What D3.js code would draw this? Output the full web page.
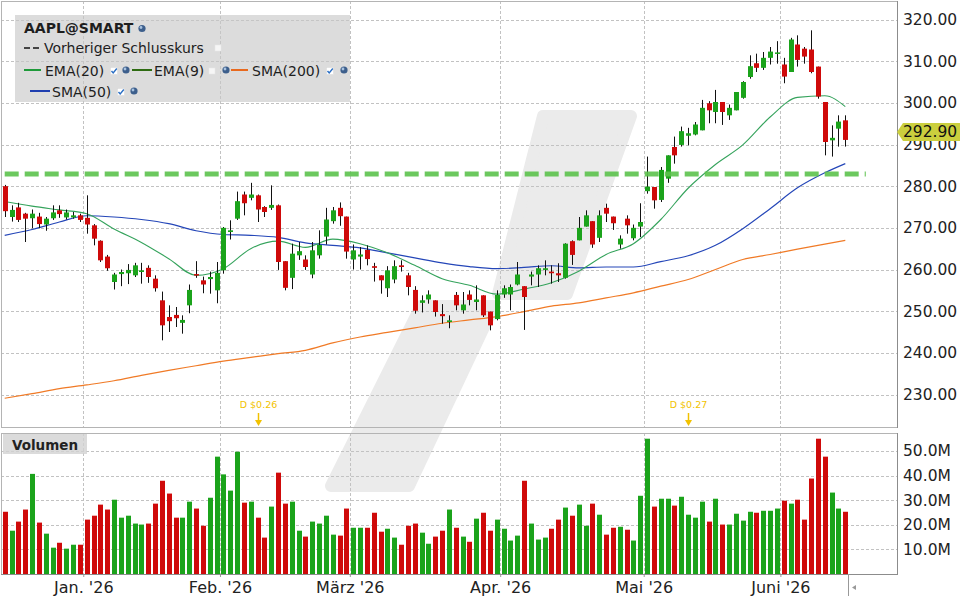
<!DOCTYPE html>
<html>
<head>
<meta charset="utf-8">
<script src="https://cdn.jsdelivr.net/npm/d3@7"></script>
<style>
  body { margin: 0; background: #fff; }
  svg { display: block; font-family: "DejaVu Sans", Verdana, sans-serif; }
</style>
</head>
<body>
<svg id="chart" width="960" height="600"></svg>
<script>
// AAPL daily candles, Dec 15 2025 .. Jun 12 2026
const opens = [
  280.0, 272.6, 274.9, 273.4, 272.3, 272.7, 270.8, 272.3, 274.2, 272.5,
  272.5, 273.0, 272.4, 270.6, 266.9, 263.1, 257.0, 258.9, 259.1, 258.6,
  259.4, 260.4, 257.8, 252.6, 248.6, 249.1, 247.2, 251.4, 258.9, 257.4,
  257.7, 255.0, 259.8, 269.0, 272.2, 278.0, 277.2, 277.8, 275.0, 274.8,
  275.4, 262.0, 258.0, 263.4, 262.4, 258.8, 263.4, 267.9, 271.6, 274.8,
  272.7, 262.4, 263.1, 264.7, 260.8, 258.6, 255.5, 257.6, 261.0, 258.6,
  255.1, 252.0, 252.8, 252.6, 249.3, 247.4, 253.9, 250.2, 254.0, 252.2,
  253.8, 249.9, 248.1, 254.0, 254.0, 256.4, 256.0, 258.3, 258.8, 259.9,
  259.5, 259.1, 258.0, 266.8, 267.0, 270.3, 271.6, 267.6, 274.8, 272.7,
  266.0, 272.2, 267.5, 270.3, 278.8, 279.8, 276.7, 281.8, 289.4, 289.9,
  292.1, 292.4, 293.4, 299.9, 297.8, 300.2, 297.0, 298.2, 301.2, 306.2,
  309.5, 308.4, 310.8, 311.9, 309.2, 307.4, 314.0, 313.0, 312.8, 308.7,
  300.2, 291.0, 293.8, 295.8
]
const highs = [
  280.3, 275.4, 276.0, 273.6, 274.4, 273.6, 272.6, 275.4, 275.4, 274.4,
  273.8, 273.4, 277.8, 270.9, 267.0, 263.5, 259.2, 260.0, 261.3, 261.6,
  261.6, 261.0, 258.6, 254.7, 251.4, 251.0, 249.0, 256.4, 262.0, 258.3,
  259.5, 261.8, 270.2, 271.8, 278.7, 278.7, 280.8, 278.0, 275.2, 280.2,
  275.6, 262.0, 266.2, 266.6, 263.4, 266.6, 269.4, 274.8, 275.0, 276.1,
  272.7, 266.0, 265.4, 265.8, 261.6, 258.6, 260.8, 262.2, 262.2, 259.2,
  256.0, 253.8, 255.0, 252.6, 251.7, 249.0, 254.6, 254.6, 255.0, 256.2,
  253.8, 249.9, 255.0, 256.2, 256.4, 261.8, 256.0, 259.5, 261.0, 262.2,
  261.0, 261.5, 266.3, 267.0, 272.6, 274.2, 271.6, 274.2, 275.8, 272.7,
  268.2, 273.0, 270.8, 275.9, 287.1, 279.8, 284.6, 287.4, 291.9, 294.3,
  294.0, 295.4, 300.7, 300.4, 303.1, 300.2, 299.6, 302.6, 305.2, 311.4,
  311.8, 312.2, 313.4, 314.8, 310.8, 315.6, 316.2, 313.4, 317.4, 308.7,
  300.2, 294.6, 297.0, 297.0
]
const lows = [
  272.6, 271.5, 271.4, 266.6, 269.9, 269.9, 269.3, 271.9, 272.4, 272.0,
  272.2, 271.4, 268.6, 265.8, 261.8, 259.7, 255.2, 256.0, 256.5, 258.2,
  256.6, 256.8, 254.7, 243.0, 245.0, 246.2, 244.6, 249.5, 258.0, 254.3,
  254.2, 251.9, 259.0, 267.2, 271.9, 273.0, 276.6, 271.4, 272.6, 274.3,
  259.9, 255.0, 255.3, 262.3, 259.9, 257.9, 262.6, 266.0, 271.0, 270.5,
  262.6, 260.0, 260.0, 261.0, 257.1, 254.2, 253.4, 256.7, 259.5, 253.8,
  249.4, 249.7, 251.8, 248.7, 247.0, 245.9, 250.2, 249.4, 251.4, 250.2,
  248.6, 245.4, 247.8, 253.2, 250.2, 256.2, 245.5, 256.2, 255.8, 258.6,
  256.6, 257.0, 257.8, 261.1, 267.0, 270.3, 265.2, 266.6, 271.4, 269.5,
  265.0, 268.6, 267.0, 267.8, 278.2, 274.6, 276.2, 280.8, 285.4, 289.5,
  289.8, 292.2, 293.4, 295.1, 295.1, 294.7, 295.9, 298.2, 301.0, 305.8,
  307.4, 307.9, 309.2, 309.4, 304.7, 307.4, 308.7, 309.4, 307.1, 301.0,
  287.4, 287.1, 289.5, 289.5
]
const closes = [
  274.0, 274.3, 271.9, 272.2, 273.4, 270.9, 272.2, 273.7, 273.3, 273.7,
  273.0, 271.9, 270.8, 267.4, 262.2, 260.3, 258.8, 259.4, 259.9, 261.0,
  259.8, 258.2, 255.5, 246.6, 247.6, 248.3, 247.9, 255.1, 258.6, 256.4,
  258.2, 259.2, 270.0, 269.4, 276.4, 275.9, 278.0, 274.4, 273.8, 275.5,
  261.8, 255.6, 263.8, 264.4, 260.6, 264.6, 265.9, 272.0, 274.2, 272.8,
  264.3, 264.6, 263.6, 262.5, 260.4, 257.4, 259.8, 260.8, 260.6, 255.8,
  250.1, 252.6, 254.0, 249.8, 248.8, 247.8, 251.4, 251.6, 252.7, 252.8,
  249.0, 246.6, 253.9, 255.5, 255.8, 258.8, 253.4, 258.8, 260.3, 260.3,
  259.1, 258.6, 266.2, 263.5, 270.0, 273.0, 266.0, 273.0, 273.4, 271.1,
  267.4, 270.6, 270.0, 271.4, 279.9, 276.6, 283.9, 287.4, 287.4, 293.2,
  292.7, 294.8, 298.8, 298.2, 300.2, 297.8, 298.8, 302.6, 305.0, 308.8,
  308.4, 310.8, 312.3, 312.1, 306.3, 315.2, 310.3, 311.1, 307.4, 301.5,
  290.6, 291.6, 295.5, 291.1
]
// volume in millions
const volumes = [
  25.3, 17.6, 21.3, 26.2, 40.7, 20.9, 16.4, 10.7, 12.7, 10.3,
  11.9, 11.9, 22.1, 23.7, 28.2, 26.2, 30.2, 22.9, 23.7, 20.5,
  20.1, 20.5, 28.6, 37.9, 32.7, 22.9, 22.9, 29.4, 26.6, 19.6,
  31.0, 47.7, 40.5, 33.9, 49.7, 29.0, 29.4, 22.9, 14.8, 27.4,
  41.2, 28.6, 29.4, 17.6, 15.2, 21.3, 20.5, 23.7, 16.0, 15.6,
  26.6, 18.8, 18.8, 18.8, 24.9, 17.2, 18.4, 14.8, 11.9, 19.6,
  20.5, 16.8, 12.3, 15.2, 17.6, 26.2, 18.8, 15.2, 13.1, 22.5,
  24.9, 17.6, 22.1, 18.4, 13.6, 15.6, 37.9, 20.5, 14.0, 14.8,
  18.4, 22.1, 27.0, 23.7, 28.2, 19.6, 28.6, 24.1, 16.0, 18.8,
  19.2, 18.0, 13.6, 31.8, 55.0, 27.4, 30.6, 30.6, 27.8, 31.4,
  24.1, 22.9, 29.4, 21.3, 30.6, 20.1, 20.1, 24.5, 21.7, 25.3,
  24.9, 25.7, 25.7, 26.6, 29.8, 28.6, 30.2, 22.1, 38.8, 55.0,
  47.7, 33.1, 26.6, 25.3
]

const monthLabels = ["Jan. '26", "Feb. '26", "März '26", "Apr. '26", "Mai '26", "Juni '26"]
const monthStarts = [12, 32, 51, 73, 94, 114]
const priceTicks = [230, 240, 250, 260, 270, 280, 290, 300, 310, 320]
const volumeTicks = [10, 20, 30, 40, 50]

// moving averages, sampled every few bars
const maIndex = [0, 4, 8, 12, 16, 20, 24, 28, 32, 36, 40, 44, 48, 52, 56, 60,
  64, 68, 72, 76, 80, 84, 88, 92, 96, 100, 104, 108, 112, 116, 120, 123]
const ema20 = [276.3, 275.2, 274.3, 273.4, 269.7, 266.5, 262.6, 258.6, 260.2, 265.0,
  266.8, 265.3, 267.3, 266.2, 264.0, 261.0, 257.8, 256.2, 254.1, 255.3, 256.8, 259.6,
  263.6, 266.2, 272.0, 279.5, 285.2, 289.9, 296.6, 301.3, 301.7, 299.1]
const sma50 = [268.2, 269.6, 271.4, 272.9, 272.6, 272.0, 271.0, 269.3, 268.4, 268.2,
  267.7, 266.4, 265.8, 265.2, 264.0, 262.8, 261.6, 260.7, 260.2, 260.5, 260.9, 260.4,
  260.6, 260.6, 261.9, 263.3, 265.8, 269.8, 274.6, 279.6, 283.2, 285.4]
const sma200 = [229.1, 230.2, 231.4, 232.3, 233.3, 234.6, 235.8, 236.9, 238.0, 238.9,
  239.8, 240.6, 242.4, 243.8, 244.9, 246.0, 247.1, 247.9, 248.7, 249.9, 251.2, 252.0,
  253.2, 254.4, 256.0, 257.6, 260.0, 262.4, 263.6, 264.9, 266.1, 267.0]

const levelPrice = 282.9
const lastQuote = 292.9
const dividendIndex = [37, 100]
const dividendLabels = ["D $0.26", "D $0.27"]

;(function () {
    const svg = d3.select("#chart")

    const plotLeft = 1
    const plotRight = 897
    const mainTop = 1
    const mainBottom = 427
    const volTop = 433
    const volBottom = 574

    const green = "#1ba31b"
    const red = "#cf0a0a"
    const gridColor = "#c2c2c2"

    const x = d3.scaleLinear().domain([0, opens.length - 1]).range([4.7, 845.3])
    const y = d3.scaleLinear().domain([230, 320]).range([394.5, 19.5])
    const yVol = d3.scaleLinear().domain([0, 50]).range([volBottom, 451])
    const cx = i => Math.round(x(i)) + 0.5

    // watermark behind everything
    const mark = svg.append("g")
        .attr("fill", "#ebebeb")
        .attr("stroke", "#ebebeb")
        .attr("stroke-width", 12)
        .attr("stroke-linejoin", "round")
    mark.append("polygon").attr("points", "543,116 631,116 567,294 498,294")
    mark.append("polygon").attr("points", "421,306 494,306 409,486 331,486")

    // horizontal grid
    svg.append("g")
        .selectAll("line")
        .data(priceTicks)
        .join("line")
        .attr("x1", plotLeft)
        .attr("x2", plotRight)
        .attr("y1", d => Math.round(y(d)) + 0.5)
        .attr("y2", d => Math.round(y(d)) + 0.5)
        .attr("stroke", gridColor)
        .attr("stroke-dasharray", "3,2")

    svg.append("g")
        .selectAll("line")
        .data(volumeTicks)
        .join("line")
        .attr("x1", plotLeft)
        .attr("x2", plotRight)
        .attr("y1", d => Math.round(yVol(d)) + 0.5)
        .attr("y2", d => Math.round(yVol(d)) + 0.5)
        .attr("stroke", gridColor)
        .attr("stroke-dasharray", "3,2")

    // month grid in both panels
    const monthX = i => Math.round(x(i - 0.5)) + 0.5
    const vGrid = svg.append("g").attr("stroke", gridColor).attr("stroke-dasharray", "3,2")
    vGrid.selectAll(".m1").data(monthStarts).join("line")
        .attr("x1", monthX).attr("x2", monthX)
        .attr("y1", mainTop).attr("y2", mainBottom)
    vGrid.selectAll(".m2").data(monthStarts).join("line")
        .attr("x1", monthX).attr("x2", monthX)
        .attr("y1", volTop).attr("y2", volBottom)

    // panel frames
    svg.append("rect")
        .attr("x", plotLeft + 0.5).attr("y", mainTop + 0.5)
        .attr("width", plotRight - plotLeft).attr("height", mainBottom - mainTop)
        .attr("fill", "none").attr("stroke", "#b4b4b4")
    svg.append("rect")
        .attr("x", plotLeft + 0.5).attr("y", volTop + 0.5)
        .attr("width", plotRight - plotLeft).attr("height", volBottom - volTop)
        .attr("fill", "none").attr("stroke", "#b4b4b4")

    // moving averages
    const maLine = series => d3.line()
        .x(d => x(d[0]))
        .y(d => y(d[1]))
        .curve(d3.curveMonotoneX)(d3.zip(maIndex, series))

    svg.append("path").attr("d", maLine(sma200))
        .attr("fill", "none").attr("stroke", "#f07a26").attr("stroke-width", 1.2)
    svg.append("path").attr("d", maLine(sma50))
        .attr("fill", "none").attr("stroke", "#2446b8").attr("stroke-width", 1.2)
    svg.append("path").attr("d", maLine(ema20))
        .attr("fill", "none").attr("stroke", "#35a35c").attr("stroke-width", 1.1)

    // candles
    const candles = svg.append("g")
        .selectAll("g")
        .data(d3.range(opens.length))
        .join("g")

    candles.append("line")
        .attr("x1", cx).attr("x2", cx)
        .attr("y1", i => y(highs[i]))
        .attr("y2", i => y(lows[i]))
        .attr("stroke", "#111")

    candles.append("rect")
        .attr("x", i => cx(i) - 2.5)
        .attr("width", 5)
        .attr("y", i => y(Math.max(opens[i], closes[i])))
        .attr("height", i => Math.max(1.5, Math.abs(y(opens[i]) - y(closes[i]))))
        .attr("fill", i => closes[i] >= opens[i] ? green : red)

    // horizontal level line
    svg.append("line")
        .attr("x1", x(0)).attr("x2", x(126))
        .attr("y1", y(levelPrice)).attr("y2", y(levelPrice))
        .attr("stroke", "#5cc24c")
        .attr("stroke-opacity", 0.9)
        .attr("stroke-width", 5)
        .attr("stroke-dasharray", "14,6")

    // volume bars
    svg.append("g")
        .selectAll("rect")
        .data(d3.range(volumes.length))
        .join("rect")
        .attr("x", i => cx(i) - 2.5)
        .attr("width", 5)
        .attr("y", i => yVol(volumes[i]))
        .attr("height", i => volBottom - yVol(volumes[i]))
        .attr("fill", i => closes[i] >= opens[i] ? green : red)

    // dividend markers
    const div = svg.append("g")
        .selectAll("g")
        .data(d3.range(dividendIndex.length))
        .join("g")
        .attr("transform", k => `translate(${cx(dividendIndex[k])},0)`)
    div.append("text")
        .attr("y", 408)
        .attr("text-anchor", "middle")
        .attr("font-size", 9.5)
        .attr("fill", "#f2c200")
        .text(k => dividendLabels[k])
    div.append("line")
        .attr("y1", 413).attr("y2", 421)
        .attr("stroke", "#f2c200").attr("stroke-width", 1.5)
    div.append("path")
        .attr("d", "M-3.5,420 L3.5,420 L0,426 Z")
        .attr("fill", "#f2c200")

    // right axes
    const yAxis = svg.append("g")
        .attr("transform", `translate(${plotRight},0)`)
        .call(d3.axisRight(y).tickValues(priceTicks).tickSize(0).tickPadding(6).tickFormat(d3.format(".2f")))
    const volAxis = svg.append("g")
        .attr("transform", `translate(${plotRight},0)`)
        .call(d3.axisRight(yVol).tickValues(volumeTicks).tickSize(0).tickPadding(6).tickFormat(d => d.toFixed(1) + "M"))
    ;[yAxis, volAxis].forEach(a => {
        a.select(".domain").remove()
        a.selectAll("text").attr("font-size", 15.5).attr("font-family", "DejaVu Sans, Verdana, sans-serif").attr("fill", "#222")
    })
    svg.append("line")
        .attr("x1", plotRight + 0.5).attr("x2", plotRight + 0.5)
        .attr("y1", mainTop).attr("y2", mainBottom + 1)
        .attr("stroke", "#8c8c8c")
    svg.append("line")
        .attr("x1", plotRight + 0.5).attr("x2", plotRight + 0.5)
        .attr("y1", volTop).attr("y2", volBottom + 1)
        .attr("stroke", "#8c8c8c")

    // last price tag
    const yq = Math.round(y(lastQuote))
    svg.append("path")
        .attr("d", `M${plotRight},${yq} L${plotRight + 6},${yq - 9} L960,${yq - 9} L960,${yq + 9} L${plotRight + 6},${yq + 9} Z`)
        .attr("fill", "#cbcf3e")
    svg.append("text")
        .attr("x", plotRight + 6).attr("y", yq).attr("dy", "0.35em")
        .attr("font-size", 15.5).attr("fill", "#111")
        .text(d3.format(".2f")(lastQuote))

    // month axis
    const xAxis = svg.append("g")
        .attr("transform", `translate(0,${volBottom})`)
        .call(d3.axisBottom(x)
            .tickValues(monthStarts.map(i => i - 0.5))
            .tickSize(3).tickPadding(5)
            .tickFormat((d, k) => monthLabels[k]))
    xAxis.select(".domain").remove()
    xAxis.selectAll("line").attr("stroke", "#999")
    xAxis.selectAll("text").attr("font-size", 16).attr("font-family", "DejaVu Sans, Verdana, sans-serif").attr("fill", "#222")
    svg.append("line")
        .attr("x1", plotLeft).attr("x2", plotRight + 1)
        .attr("y1", volBottom + 0.5).attr("y2", volBottom + 0.5)
        .attr("stroke", "#8c8c8c")

    // scroll marker at the end of the data
    svg.append("line")
        .attr("x1", 848.5).attr("x2", 848.5)
        .attr("y1", volBottom).attr("y2", 596)
        .attr("stroke", "#999")
    svg.append("path")
        .attr("d", "M852,587.5 L856,585 L856,590 Z")
        .attr("fill", "#999")

    // "Volumen" tag
    svg.append("rect")
        .attr("x", 3).attr("y", 434).attr("width", 84).attr("height", 20)
        .attr("fill", "#d2d2d2").attr("fill-opacity", 0.8)
    svg.append("text")
        .attr("x", 12).attr("y", 449.5)
        .attr("font-size", 13.5).attr("font-weight", "bold").attr("fill", "#222")
        .text("Volumen")

    // legend
    const legend = svg.append("g")
    legend.append("rect")
        .attr("x", 15).attr("y", 15).attr("width", 335).attr("height", 87)
        .attr("fill", "#c6c6c6").attr("fill-opacity", 0.62)

    const globe = (gx, gy) => {
        legend.append("circle").attr("cx", gx).attr("cy", gy).attr("r", 3.6).attr("fill", "#3d5f8c")
        legend.append("circle").attr("cx", gx - 1).attr("cy", gy - 1).attr("r", 1.4).attr("fill", "#a9c3e0")
    }
    const check = (gx, gy) => {
        legend.append("rect").attr("x", gx - 3.5).attr("y", gy - 3.5).attr("width", 7).attr("height", 7)
            .attr("fill", "#fff").attr("stroke", "#d8d8d8").attr("stroke-width", 0.5)
        legend.append("path").attr("d", `M${gx - 2.5},${gy} L${gx - 0.8},${gy + 2} L${gx + 2.8},${gy - 2.5}`)
            .attr("fill", "none").attr("stroke", "#2b6fc4").attr("stroke-width", 1.4)
    }
    const box = (gx, gy) => {
        legend.append("rect").attr("x", gx - 3).attr("y", gy - 3).attr("width", 6).attr("height", 6)
            .attr("fill", "#f6f6f6").attr("stroke", "#e6e6e6").attr("stroke-width", 0.5)
    }
    const label = (tx, ty, txt, bold) => legend.append("text")
        .attr("x", tx).attr("y", ty)
        .attr("font-size", 14)
        .attr("font-weight", bold ? "bold" : "normal")
        .attr("fill", "#1e1e1e")
        .text(txt)
    const swatch = (x1, x2, sy, color, dash) => legend.append("line")
        .attr("x1", x1).attr("x2", x2).attr("y1", sy).attr("y2", sy)
        .attr("stroke", color).attr("stroke-width", 2)
        .attr("stroke-dasharray", dash || null)

    label(24, 33, "AAPL@SMART", true)
    globe(142, 28.5)

    swatch(24, 41, 48, "#444", "6,3")
    label(44, 52.5, "Vorheriger Schlusskurs")
    box(218, 48)

    swatch(24, 41, 70, "#1e9a3a")
    label(45, 75.5, "EMA(20)")
    check(114, 71)
    globe(126, 70)
    swatch(132, 152, 70, "#2e6b12")
    label(154, 75.5, "EMA(9)")
    box(212, 71)
    globe(226, 70)
    swatch(231, 248, 70, "#e8691e")
    label(252, 75.5, "SMA(200)")
    check(330, 71)
    globe(344, 70)

    swatch(30, 50, 91, "#1f3fb0")
    label(52, 97, "SMA(50)")
    check(121, 92)
    globe(134, 91)
})()
</script>
</body>
</html>
